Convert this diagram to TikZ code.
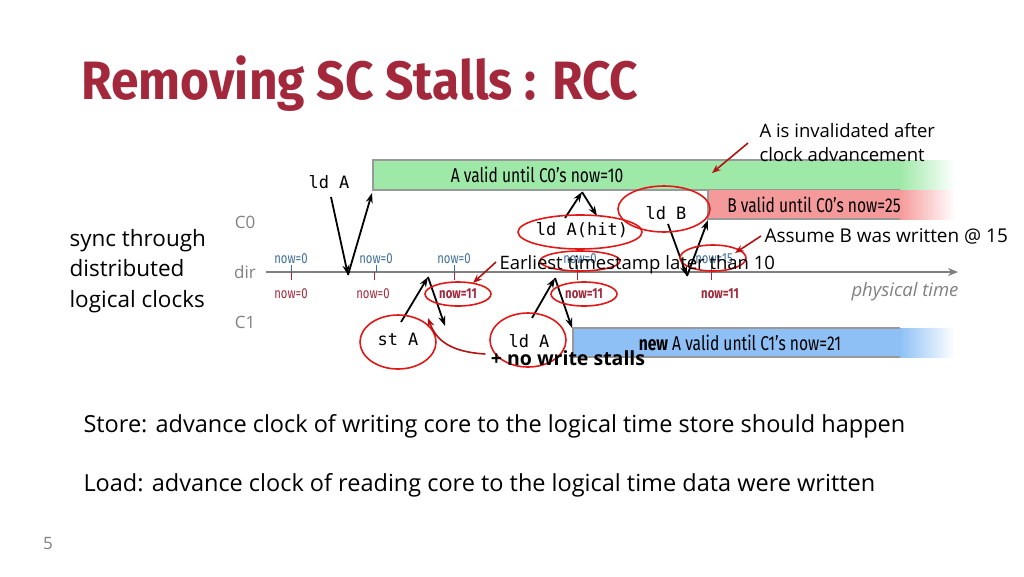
\documentclass[tikz,border=0pt]{standalone}
\usepackage{fontspec}
\setmainfont{Open Sans}
\setmonofont{DejaVu Sans Mono}
\newfontfamily\titlefont[FakeStretch=0.92]{Fira Sans}
\newfontfamily\narrowfont[FakeStretch=0.78]{Fira Sans}
\usetikzlibrary{arrows.meta,shapes.geometric}
\definecolor{ttl}{HTML}{A3283B}
\definecolor{grn}{HTML}{9EE8A8}
\definecolor{pnk}{HTML}{F59A9A}
\definecolor{blu}{HTML}{8EC0F5}
\definecolor{tblue}{HTML}{3D6E9A}
\definecolor{tred}{HTML}{A3283B}
\definecolor{ell}{HTML}{E01818}
\begin{document}
\begin{tikzpicture}[x=1pt,y=-1pt,
  barlbl/.style={font=\narrowfont\fontsize{20}{20}\selectfont},
  blk/.style={-{Stealth[length=10pt,width=7pt]},line width=1.8pt},
  redarr/.style={-{Stealth[length=9pt,width=7pt]},line width=1.6pt,draw=ell!80!black},
  oval/.style={draw=ell,line width=1.6pt,ellipse},
  up/.style={font=\narrowfont\fontsize{14.5}{14.5}\selectfont,text=tblue},
  dn/.style={font=\narrowfont\fontsize{14.5}{14.5}\selectfont,text=tred},
  mono/.style={font=\ttfamily\fontsize{17}{17}\selectfont},
  side/.style={font=\fontsize{17}{17}\selectfont,text=gray},
  txt/.style={font=\fontsize{18.5}{18.5}\selectfont,anchor=west}]
\useasboundingbox (0,0) rectangle (1024,576);
\node[anchor=west,font=\titlefont\bfseries\fontsize{54}{54}\selectfont,text=ttl] (title) at (78,84) {Removing SC Stalls : RCC};
% bars
\fill[grn] (373,160) rectangle (900,190);
\shade[left color=grn,right color=white] (899.5,160) rectangle (955,190);
\draw[gray!80,line width=1.2pt] (900,160) -- (373,160) -- (373,190) -- (900,190);
\fill[pnk] (708,190) rectangle (900,219);
\shade[left color=pnk,right color=white] (899.5,190) rectangle (955,219);
\draw[gray!80,line width=1.2pt] (900,219) -- (708,219) -- (708,190);
\fill[blu] (573,328) rectangle (900,357);
\shade[left color=blu,right color=white] (899.5,328) rectangle (955,357);
\draw[gray!80,line width=1.2pt] (900,328) -- (573,328) -- (573,357) -- (900,357);
\node[barlbl] (ga) at (537,175) {A valid until C0’s now=10};
\node[barlbl] (rb) at (814,205) {B valid until C0’s now=25};
\node[barlbl] (bl) at (740,343) {\textbf{new} A valid until C1’s now=21};
% timeline
\coordinate (t0) at (266,272);
\coordinate (t1) at (958,272);
\draw[gray,line width=1.8pt,-{Stealth[length=10pt,width=8pt]}] (t0) -- (t1);
\node[font=\itshape\fontsize{18.5}{18.5}\selectfont,text=gray] (pt) at (905,292) {physical time};
\foreach \x in {291,376,454,577,711} \draw[tblue,line width=1pt] (\x,265) -- (\x,272);
\foreach \x in {291,374,454,577,711} \draw[tred,line width=1pt] (\x,272) -- (\x,280);
\node[up] (u1) at (291,259) {now=0};
\node[up] (u2) at (376,259) {now=0};
\node[up] (u3) at (454,259) {now=0};
\node[up] (u4) at (580,259) {now=0};
\node[up] (u5) at (714,259) {now=15};
\node[dn] (d1) at (291,294) {now=0};
\node[dn] (d2) at (373,294) {now=0};
\node[dn,font=\narrowfont\bfseries\fontsize{14.5}{14.5}\selectfont] (d3) at (458,294) {now=11};
\node[dn,font=\narrowfont\bfseries\fontsize{14.5}{14.5}\selectfont] (d4) at (584,294) {now=11};
\node[dn,font=\narrowfont\bfseries\fontsize{14.5}{14.5}\selectfont] (d5) at (720,294) {now=11};
\node[side] (c0) at (245,222) {C0};
\node[side] (dir) at (245,272) {dir};
\node[side] (c1) at (245,322) {C1};
\node[anchor=west,align=left,font=\fontsize{22.5}{30.5}\selectfont] (sync) at (66,271) {sync through\\distributed\\logical clocks};
% ops
\node[mono] (lda) at (329,182) {ld A};
\coordinate (p1) at (348,275);
\draw[blk] (331,197) -- (p1);
\draw[blk] (p1) -- (372,193);
\node[mono] (sta) at (398,339) {st A};
\coordinate (p2) at (428,277);
\draw[blk] (401,322) -- (p2);
\draw[blk] (p2) -- (445,326);
\node[mono] (hit) at (582,230) {ld A(hit)};
\coordinate (p3) at (582,192);
\draw[blk] (565,218) -- (p3);
\draw[blk] (p3) -- (597,216);
\node[mono] (ldb) at (666,213) {ld B};
\coordinate (p4) at (687,276);
\draw[blk] (668,224) -- (p4);
\draw[blk] (p4) -- (708,220);
\node[mono] (lda2) at (529,341) {ld A};
\coordinate (p5) at (555,278);
\draw[blk] (532,318) -- (p5);
\draw[blk] (p5) -- (572,328);
% ovals
\node[oval,minimum width=76pt,minimum height=54pt] (o1) at (398,342) {};
\node[oval,minimum width=76pt,minimum height=54pt] (o2) at (528,340) {};
\node[oval,minimum width=124pt,minimum height=34pt] (o3) at (580,232) {};
\node[oval,minimum width=92pt,minimum height=46pt] (o4) at (664,209) {};
\node[oval,minimum width=66pt,minimum height=24pt] (o5) at (458,294) {};
\node[oval,minimum width=66pt,minimum height=24pt] (o6) at (584,294) {};
\node[oval,minimum width=80pt,minimum height=20pt] (o7) at (580,261) {};
\node[oval,minimum width=66pt,minimum height=26pt] (o8) at (713,258) {};
% annotations
\node[txt] (early) at (496,265) {Earliest timestamp later than 10};
\draw[redarr] (early.west) ++(0,-3) -- (473,283);
\node[txt,align=left,font=\fontsize{18.5}{24}\selectfont] (inv) at (756,143) {A is invalidated after\\clock advancement};
\coordinate (invt) at (712,173);
\draw[redarr] (748,143) -- (invt);
\node[txt,font=\fontsize{19}{19}\selectfont] (asm) at (761,236) {Assume B was written @ 15};
\draw[redarr] (asm.west) -- (735,253);
\node[font=\bfseries\fontsize{19.5}{19.5}\selectfont] (nws) at (568,358) {+ no write stalls};
\draw[redarr] (nws.west) ++(-2,-4) .. controls (450,352) and (436,340) .. (428,318);
\node[txt,font=\fontsize{23.5}{23.5}\selectfont] (store) at (80,426) {Store: advance clock of writing core to the logical time store should happen};
\node[txt,font=\fontsize{23.5}{23.5}\selectfont] (load) at (80,485) {Load: advance clock of reading core to the logical time data were written};
\node[font=\fontsize{17}{17}\selectfont,text=gray] (pg) at (48,544) {5};
\end{tikzpicture}
\end{document}
